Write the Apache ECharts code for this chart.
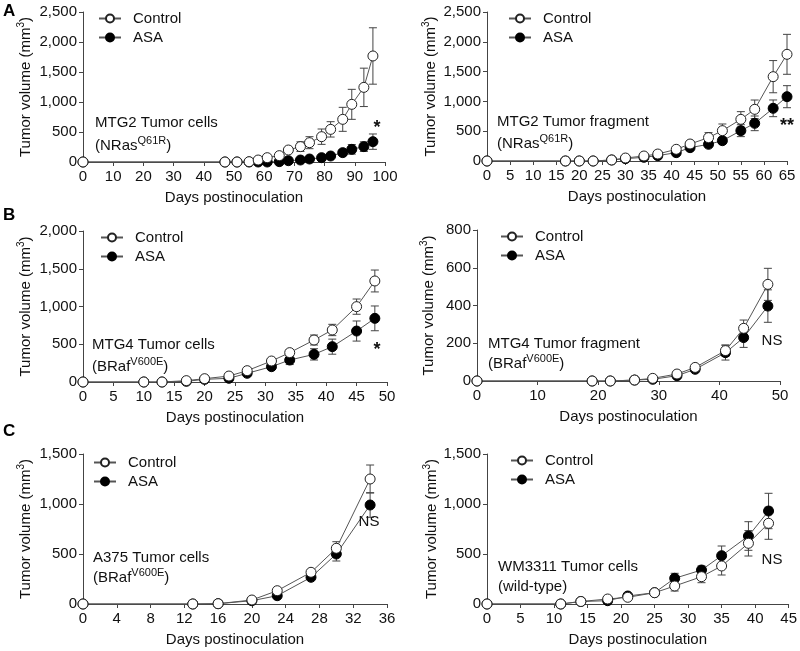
<!DOCTYPE html>
<html>
<head>
<meta charset="utf-8">
<script src="https://cdn.jsdelivr.net/npm/echarts@6/dist/echarts.min.js"></script>
<style>
  html, body { margin: 0; padding: 0; background: #fff; }
  #chart { width: 800px; height: 651px; }
</style>
</head>
<body>
<div id="chart"></div>
<script>
// A left: MTG2 tumor cells
var daysA1 = [0, 47, 51, 55, 58, 61, 65, 68, 72, 75, 79, 82, 86, 89, 93, 96];
var ctrlA1 = [0, 0, 0, 5, 33, 72, 106, 200, 256, 322, 422, 544, 711, 961, 1244, 1767];
var ctrlErrA1 = [0, 0, 0, 0, 0, 0, 20, 30, 80, 100, 128, 128, 200, 250, 320, 470];
var asaA1 = [0, 0, 0, 0, 0, 0, 6, 22, 33, 50, 72, 100, 156, 211, 256, 339];
var asaErrA1 = [0, 0, 0, 0, 0, 0, 0, 0, 10, 12, 18, 25, 45, 80, 80, 128];

// A right: MTG2 tumor fragment
var daysA2 = [0, 17, 20, 23, 27, 30, 34, 37, 41, 44, 48, 51, 55, 58, 62, 65];
var ctrlA2 = [0, 0, 0, 0, 17, 50, 84, 117, 196, 285, 392, 509, 699, 867, 1415, 1790];
var ctrlErrA2 = [0, 0, 0, 0, 0, 0, 0, 20, 30, 50, 84, 112, 129, 156, 270, 335];
var asaA2 = [0, 0, 0, 0, 17, 39, 62, 90, 140, 224, 280, 341, 509, 632, 884, 1079];
var asaErrA2 = [0, 0, 0, 0, 0, 0, 0, 15, 25, 35, 40, 50, 100, 123, 140, 185];

// B left: MTG4 tumor cells
var daysB1 = [0, 10, 13, 17, 20, 24, 27, 31, 34, 38, 41, 45, 48];
var ctrlB1 = [0, 0, 0, 18, 44, 79, 150, 278, 389, 556, 689, 998, 1338];
var ctrlErrB1 = [0, 0, 0, 0, 0, 15, 20, 30, 40, 66, 75, 101, 145];
var asaB1 = [0, 0, 0, 9, 35, 49, 115, 203, 291, 366, 468, 675, 843];
var asaErrB1 = [0, 0, 0, 0, 0, 10, 15, 30, 60, 75, 100, 133, 164];

// B right: MTG4 tumor fragment
var daysB2 = [0, 19, 22, 26, 29, 33, 36, 41, 44, 48];
var ctrlB2 = [0, 0, 0, 5, 14, 37, 72, 161, 279, 512];
var ctrlErrB2 = [0, 0, 0, 0, 0, 5, 8, 30, 44, 85];
var asaB2 = [0, 0, 0, 5, 9, 28, 62, 150, 230, 397];
var asaErrB2 = [0, 0, 0, 0, 0, 5, 8, 39, 52, 86];

// C left: A375 tumor cells
var daysC1 = [0, 13, 16, 20, 23, 27, 30, 34];
var ctrlC1 = [0, 0, 3, 40, 133, 317, 557, 1250];
var ctrlErrC1 = [0, 0, 0, 0, 15, 25, 66, 140];
var asaC1 = [0, 0, 3, 33, 83, 267, 500, 990];
var asaErrC1 = [0, 0, 0, 0, 10, 20, 70, 123];

// C right: WM3311 tumor cells
var daysC2 = [0, 11, 14, 18, 21, 25, 28, 32, 35, 39, 42];
var ctrlC2 = [0, 0, 25, 50, 67, 113, 180, 273, 380, 607, 807];
var ctrlErrC2 = [0, 0, 0, 0, 0, 10, 50, 60, 90, 127, 160];
var asaC2 = [0, 0, 25, 33, 80, 113, 257, 340, 483, 680, 930];
var asaErrC2 = [0, 0, 0, 0, 0, 10, 50, 40, 97, 143, 177];

var font = '"Liberation Sans", Arial, sans-serif';
var axisColor = '#444';
var textColor = '#111';

var panels = [
    {days: daysA1, ctrl: ctrlA1, ctrlErr: ctrlErrA1, asa: asaA1, asaErr: asaErrA1,
     grid: {left: 83, top: 12, width: 302, height: 150}, xMax: 100, xStep: 10, yMax: 2500, yStep: 500,
     nameGap: 48, legend: {left: 93, top: 6}},
    {days: daysA2, ctrl: ctrlA2, ctrlErr: ctrlErrA2, asa: asaA2, asaErr: asaErrA2,
     grid: {left: 487, top: 12, width: 300, height: 149}, xMax: 65, xStep: 5, yMax: 2500, yStep: 500,
     nameGap: 47, legend: {left: 503, top: 6}},
    {days: daysB1, ctrl: ctrlB1, ctrlErr: ctrlErrB1, asa: asaB1, asaErr: asaErrB1,
     grid: {left: 83, top: 231, width: 304, height: 151}, xMax: 50, xStep: 5, yMax: 2000, yStep: 500,
     nameGap: 48, legend: {left: 95, top: 225}},
    {days: daysB2, ctrl: ctrlB2, ctrlErr: ctrlErrB2, asa: asaB2, asaErr: asaErrB2,
     grid: {left: 477, top: 230, width: 303, height: 151}, xMax: 50, xStep: 10, yMax: 800, yStep: 200,
     nameGap: 39, legend: {left: 495, top: 224}},
    {days: daysC1, ctrl: ctrlC1, ctrlErr: ctrlErrC1, asa: asaC1, asaErr: asaErrC1,
     grid: {left: 83, top: 454, width: 304, height: 150}, xMax: 36, xStep: 4, yMax: 1500, yStep: 500,
     nameGap: 48, legend: {left: 88, top: 450}},
    {days: daysC2, ctrl: ctrlC2, ctrlErr: ctrlErrC2, asa: asaC2, asaErr: asaErrC2,
     grid: {left: 487, top: 454, width: 304, height: 150}, xMax: 45, xStep: 5, yMax: 1500, yStep: 500,
     nameGap: 46, legend: {left: 505, top: 448}}
];

function thousands(v) {
    return String(v).replace(/\B(?=(\d{3})+(?!\d))/g, ',');
}

function errRender(params, api) {
    var x = api.value(0);
    var top = api.coord([x, api.value(2)]);
    var bot = api.coord([x, api.value(1)]);
    var w = 4;
    var st = {stroke: '#444', lineWidth: 1};
    return {
        type: 'group',
        children: [
            {type: 'line', shape: {x1: top[0], y1: top[1], x2: bot[0], y2: bot[1]}, style: st},
            {type: 'line', shape: {x1: top[0] - w, y1: top[1], x2: top[0] + w, y2: top[1]}, style: st},
            {type: 'line', shape: {x1: bot[0] - w, y1: bot[1], x2: bot[0] + w, y2: bot[1]}, style: st}
        ]
    };
}

function errData(days, vals, errs) {
    var out = [];
    for (var i = 0; i < days.length; i++) {
        if (errs[i] > 0) out.push([days[i], vals[i] - errs[i], vals[i] + errs[i]]);
    }
    return out;
}

function pts(days, vals) {
    return days.map(function (d, i) { return [d, vals[i]]; });
}

var grids = [], xAxes = [], yAxes = [], series = [], legends = [];

panels.forEach(function (p, k) {
    grids.push(p.grid);
    xAxes.push({
        type: 'value', gridIndex: k, min: 0, max: p.xMax, interval: p.xStep,
        name: 'Days postinoculation', nameLocation: 'middle', nameGap: 28,
        nameTextStyle: {fontFamily: font, fontSize: 15, color: textColor},
        axisLine: {onZero: false, lineStyle: {color: axisColor, width: 1}},
        axisTick: {length: 4, lineStyle: {color: axisColor}},
        axisLabel: {fontFamily: font, fontSize: 15, color: textColor, margin: 7},
        splitLine: {show: false}
    });
    yAxes.push({
        type: 'value', gridIndex: k, min: 0, max: p.yMax, interval: p.yStep,
        name: 'Tumor volume (mm{sup|3})', nameLocation: 'middle', nameGap: p.nameGap,
        nameTextStyle: {fontFamily: font, fontSize: 15, color: textColor,
            rich: {sup: {fontFamily: font, fontSize: 10, color: textColor, padding: [0, 0, 9, 0]}}},
        axisLine: {show: true, lineStyle: {color: axisColor, width: 1}},
        axisTick: {show: true, length: 4, lineStyle: {color: axisColor}},
        axisLabel: {fontFamily: font, fontSize: 15, color: textColor, margin: 6, formatter: thousands},
        splitLine: {show: false}
    });
    series.push({
        type: 'custom', name: 'asaErr' + k, xAxisIndex: k, yAxisIndex: k, z: 1,
        renderItem: errRender, encode: {x: 0, y: [1, 2]}, data: errData(p.days, p.asa, p.asaErr)
    });
    series.push({
        type: 'custom', name: 'ctrlErr' + k, xAxisIndex: k, yAxisIndex: k, z: 1,
        renderItem: errRender, encode: {x: 0, y: [1, 2]}, data: errData(p.days, p.ctrl, p.ctrlErr)
    });
    series.push({
        type: 'line', name: 'ASA', xAxisIndex: k, yAxisIndex: k, z: 2,
        symbol: 'circle', symbolSize: 10, showAllSymbol: true,
        lineStyle: {color: '#555', width: 1},
        itemStyle: {color: '#000', borderColor: '#000', borderWidth: 1},
        data: pts(p.days, p.asa)
    });
    series.push({
        type: 'line', name: 'Control', xAxisIndex: k, yAxisIndex: k, z: 3,
        symbol: 'circle', symbolSize: 10, showAllSymbol: true,
        lineStyle: {color: '#555', width: 1},
        itemStyle: {color: '#fff', borderColor: '#222', borderWidth: 1},
        data: pts(p.days, p.ctrl)
    });
    legends.push({
        orient: 'vertical', left: p.legend.left, top: p.legend.top,
        itemWidth: 22, itemHeight: 10, itemGap: 4, selectedMode: false,
        textStyle: {fontFamily: font, fontSize: 15, color: textColor, padding: [0, 0, 0, 7]},
        data: ['Control', 'ASA']
    });
});

var supRich = {
    sup: {fontFamily: font, fontSize: 11, fill: textColor, padding: [0, 0, 10, 0]}
};

function note(x, y, text, align) {
    return {
        type: 'text', x: x, y: y, z: 10,
        style: {
            text: text, fontFamily: font, fontSize: 15, fill: textColor,
            align: align || 'left', verticalAlign: 'middle', rich: supRich
        }
    };
}

function star(x, y, text) {
    return {
        type: 'text', x: x, y: y, z: 10,
        style: {
            text: text, fontFamily: font, fontSize: 18, fontWeight: 'bold', fill: textColor,
            align: 'center', verticalAlign: 'middle'
        }
    };
}

function letter(x, y, t) {
    return {
        type: 'text', x: x, y: y, z: 10,
        style: {text: t, fontFamily: font, fontSize: 17, fontWeight: 'bold', fill: '#000', verticalAlign: 'middle'}
    };
}

var graphics = [
    letter(3, 11, 'A'), letter(3, 215, 'B'), letter(3, 431, 'C'),
    note(95, 123, 'MTG2 Tumor cells'), note(95, 146, '(NRas{sup|Q61R})'),
    note(497, 122, 'MTG2 Tumor fragment'), note(497, 144, '(NRas{sup|Q61R})'),
    note(92, 345, 'MTG4 Tumor cells'), note(92, 367, '(BRaf{sup|V600E})'),
    note(488, 344, 'MTG4 Tumor fragment'), note(488, 364, '(BRaf{sup|V600E})'),
    note(93, 558, 'A375 Tumor cells'), note(93, 578, '(BRaf{sup|V600E})'),
    note(498, 567, 'WM3311 Tumor cells'), note(498, 587, '(wild-type)'),
    star(377, 128, '*'), star(787, 126, '**'), star(377, 350, '*'),
    note(772, 341, 'NS', 'center'), note(369, 522, 'NS', 'center'), note(772, 560, 'NS', 'center')
];

var chart = echarts.init(document.getElementById('chart'));
chart.setOption({
    animation: false,
    backgroundColor: '#fff',
    textStyle: {fontFamily: font},
    grid: grids,
    xAxis: xAxes,
    yAxis: yAxes,
    legend: legends,
    series: series,
    graphic: graphics
});
</script>
</body>
</html>
